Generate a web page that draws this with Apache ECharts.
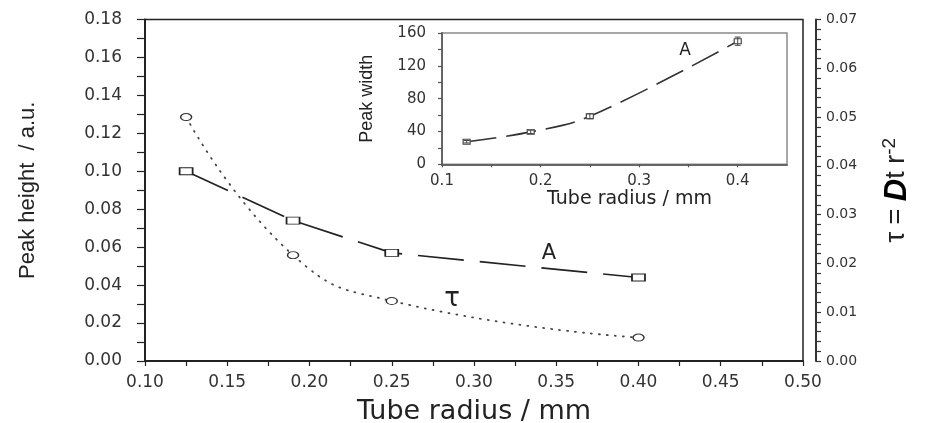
<!DOCTYPE html>
<html>
<head>
<meta charset="utf-8">
<script src="https://cdn.jsdelivr.net/npm/echarts@6/dist/echarts.min.js"></script>
<style>
  html, body { margin: 0; padding: 0; background: #fff; }
  #chart { width: 925px; height: 423px; }
</style>
</head>
<body>
<div id="chart"></div>
<script>
// Tube radius (mm) of the four measured tubes
const radius = [0.125, 0.19, 0.25, 0.40];
// Peak height A (a.u.), left axis
const peakHeight = [0.100, 0.074, 0.057, 0.044];
// Dimensionless time tau = D t r^-2, right axis
const tau = [0.050, 0.0217, 0.0123, 0.0048];
// Inset: peak width and its error
const peakWidth = [27.5, 39.5, 58.5, 150];
const peakWidthErr = [1.5, 2, 3, 5];

// Tick values of each axis
const mainXTicks = [0.10, 0.15, 0.20, 0.25, 0.30, 0.35, 0.40, 0.45, 0.50];
const heightTicks = [0.00, 0.02, 0.04, 0.06, 0.08, 0.10, 0.12, 0.14, 0.16, 0.18];
const tauTicks = [0.00, 0.01, 0.02, 0.03, 0.04, 0.05, 0.06, 0.07];
const insetXTicks = [0.10, 0.15, 0.20, 0.25, 0.30, 0.35, 0.40, 0.45];
const widthTicks = [0, 40, 80, 120, 160];

const span = t => ({ min: t[0], max: t[t.length - 1], interval: +(t[1] - t[0]).toFixed(6) });

const INK = '#222';
const WIDE = '"DejaVu Sans", Verdana, sans-serif';
const SANS = '"Liberation Sans", Arial, sans-serif';

// Slightly flattened ellipse used for the tau markers
const ELLIPSE = 'path://M0,5A5,5 0 1,1 10,5A5,5 0 1,1 0,5Z';

const chart = echarts.init(document.getElementById('chart'), null, { renderer: 'canvas' });

const option = {
  animation: false,
  backgroundColor: '#fff',
  grid: [
    { left: 145, right: 122, top: 19.5, bottom: 62, outerBoundsMode: 'none', show: true, borderColor: INK, borderWidth: 1.5, backgroundColor: 'transparent' },
    { left: 442, right: 138, top: 33, bottom: 258.7, outerBoundsMode: 'none', show: true, borderColor: '#8a8a8a', borderWidth: 1.5, backgroundColor: '#fff' }
  ],
  xAxis: [
    {
      type: 'value', gridIndex: 0, ...span(mainXTicks),
      name: 'Tube radius / mm', nameLocation: 'middle', nameGap: 37,
      nameTextStyle: { fontFamily: WIDE, fontSize: 27, color: INK },
      axisLine: { show: true, onZero: false, lineStyle: { color: INK, width: 2 } },
      axisTick: { show: true, length: 5, lineStyle: { color: INK, width: 1.2 } },
      minorTick: { show: true, splitNumber: 2, length: 5, lineStyle: { color: INK, width: 1.2 } },
      splitLine: { show: false }, minorSplitLine: { show: false },
      axisLabel: { margin: 13, fontFamily: WIDE, fontSize: 17, color: '#333', formatter: v => v.toFixed(2) }
    },
    {
      type: 'value', gridIndex: 1, ...span(insetXTicks),
      name: 'Tube radius / mm', nameLocation: 'middle', nameGap: 23,
      nameTextStyle: { fontFamily: WIDE, fontSize: 19, color: INK, padding: [0, 0, 0, 30] },
      axisLine: { show: true, onZero: false, lineStyle: { color: '#666', width: 2 } },
      axisTick: { show: true, length: 3, lineStyle: { color: '#555', width: 1.2 } },
      splitLine: { show: false },
      axisLabel: {
        margin: 9, fontFamily: WIDE, fontSize: 15, color: '#333', showMaxLabel: false,
        formatter: v => (Math.abs(v * 10 - Math.round(v * 10)) < 1e-6 ? v.toFixed(1) : '')
      }
    }
  ],
  yAxis: [
    {
      type: 'value', gridIndex: 0, position: 'left', ...span(heightTicks),
      name: 'Peak height  / a.u.', nameLocation: 'middle', nameGap: 106, nameRotate: 90,
      nameTextStyle: { fontFamily: SANS, fontSize: 22, color: INK },
      axisLine: { show: true, onZero: false, lineStyle: { color: INK, width: 2 } },
      axisTick: { show: true, length: 8, lineStyle: { color: INK, width: 1.2 } },
      minorTick: { show: true, splitNumber: 2, length: 8, lineStyle: { color: INK, width: 1.2 } },
      splitLine: { show: false }, minorSplitLine: { show: false },
      axisLabel: { margin: 23, fontFamily: WIDE, fontSize: 17, color: '#333', formatter: v => v.toFixed(2) }
    },
    {
      type: 'value', gridIndex: 0, position: 'right', offset: 13, ...span(tauTicks),
      name: '{n|τ = }{d|D}{n|t r}{s|-2}', nameLocation: 'middle', nameGap: 64, nameRotate: 90,
      nameTextStyle: {
        color: INK,
        rich: {
          n: { fontFamily: SANS, fontSize: 27, color: INK },
          d: { fontFamily: SANS, fontSize: 31, fontStyle: 'italic', fontWeight: 'bold', color: '#000' },
          s: { fontFamily: SANS, fontSize: 19, color: INK, verticalAlign: 'top', lineHeight: 34 }
        }
      },
      axisLine: { show: true, onZero: false, lineStyle: { color: '#333', width: 2 } },
      axisTick: { show: true, length: 5, lineStyle: { color: '#333', width: 1.2 } },
      minorTick: { show: true, splitNumber: 5, length: 5, lineStyle: { color: '#333', width: 1.2 } },
      splitLine: { show: false }, minorSplitLine: { show: false },
      axisLabel: { margin: 10, fontFamily: WIDE, fontSize: 14, color: '#333', formatter: v => v.toFixed(2) }
    },
    {
      type: 'value', gridIndex: 1, position: 'left', ...span(widthTicks),
      name: 'Peak width', nameLocation: 'middle', nameGap: 66, nameRotate: 90,
      nameTextStyle: { fontFamily: SANS, fontSize: 18, color: INK },
      axisLine: { show: true, onZero: false, lineStyle: { color: '#666', width: 2 } },
      axisTick: { show: true, length: 4, lineStyle: { color: '#555', width: 1.2 } },
      minorTick: { show: true, splitNumber: 2, length: 4, lineStyle: { color: '#555', width: 1.2 } },
      splitLine: { show: false }, minorSplitLine: { show: false },
      axisLabel: { margin: 16, fontFamily: WIDE, fontSize: 15, color: '#333' }
    }
  ],
  series: [
    {
      name: 'A', type: 'line', xAxisIndex: 0, yAxisIndex: 0, z: 4,
      data: radius.map((r, i) => [r, peakHeight[i]]),
      symbol: 'rect', symbolSize: [13, 7],
      itemStyle: { color: '#fff', borderColor: INK, borderWidth: 1.3 },
      lineStyle: { color: INK, width: 1.7, type: [46, 16] }
    },
    {
      name: 'tau', type: 'line', xAxisIndex: 0, yAxisIndex: 1, z: 3,
      data: radius.map((r, i) => [r, tau[i]]),
      smooth: 0.5,
      symbol: ELLIPSE, symbolSize: [11, 7],
      itemStyle: { color: '#fff', borderColor: '#333', borderWidth: 1.2 },
      lineStyle: { color: '#444', width: 1.8, type: [1, 7], cap: 'round' }
    },
    {
      name: 'Peak width', type: 'line', xAxisIndex: 1, yAxisIndex: 2, z: 4,
      data: radius.map((r, i) => [r, peakWidth[i]]),
      smooth: 0.4,
      symbol: 'rect', symbolSize: [7, 5],
      itemStyle: { color: '#fff', borderColor: '#444', borderWidth: 1 },
      lineStyle: { color: '#333', width: 1.6, type: [30, 10] }
    },
    {
      name: 'Peak width error', type: 'custom', xAxisIndex: 1, yAxisIndex: 2, z: 5,
      data: radius.map((r, i) => [r, peakWidth[i], peakWidthErr[i]]),
      encode: { x: 0, y: 1 },
      renderItem: (params, api) => {
        const x = api.value(0), y = api.value(1), e = api.value(2);
        const hi = api.coord([x, y + e]);
        const lo = api.coord([x, y - e]);
        const w = 3;
        const st = { stroke: '#444', lineWidth: 1 };
        return {
          type: 'group',
          children: [
            { type: 'line', shape: { x1: hi[0], y1: hi[1], x2: lo[0], y2: lo[1] }, style: st },
            { type: 'line', shape: { x1: hi[0] - w, y1: hi[1], x2: hi[0] + w, y2: hi[1] }, style: st },
            { type: 'line', shape: { x1: lo[0] - w, y1: lo[1], x2: lo[0] + w, y2: lo[1] }, style: st }
          ]
        };
      }
    }
  ],
  graphic: [
    { type: 'text', x: 549, y: 254, z: 10, style: { text: 'A', font: '21px ' + WIDE, fill: INK, align: 'center', verticalAlign: 'middle' } },
    { type: 'text', x: 452, y: 299, z: 10, style: { text: 'τ', font: '26px ' + WIDE, fill: INK, align: 'center', verticalAlign: 'middle' } },
    { type: 'text', x: 685, y: 51, z: 10, style: { text: 'A', font: '17px ' + WIDE, fill: INK, align: 'center', verticalAlign: 'middle' } }
  ]
};

chart.setOption(option);
</script>
</body>
</html>
